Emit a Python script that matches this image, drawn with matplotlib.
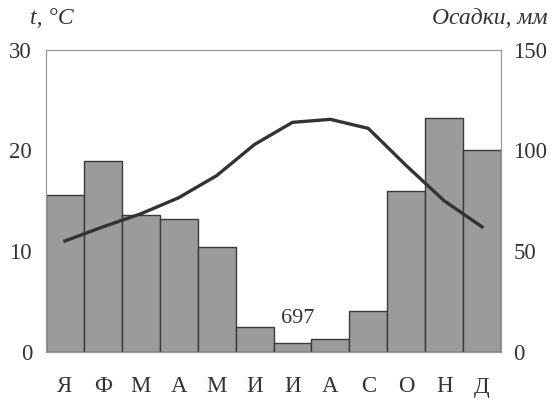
import numpy as np
import matplotlib.pyplot as plt

# Данные климатограммы
months = ['Я', 'Ф', 'М', 'А', 'М', 'И', 'И', 'А', 'С', 'О', 'Н', 'Д']
temp = [11.0, 12.4, 13.7, 15.3, 17.5, 20.6, 22.8, 23.1, 22.2, 18.5, 15.0, 12.4]
precip = [78, 95, 68, 66, 52, 12, 4, 6, 20, 80, 116, 100]
total_precip = '697'

plt.rcParams['font.family'] = ['Liberation Serif', 'DejaVu Serif']

fig = plt.figure(figsize=(5.52, 4.01), dpi=100)
ax = fig.add_axes([46 / 552, 1 - 351.5 / 401, 455 / 552, 301.5 / 401])
ax2 = ax.twinx()

x = np.arange(len(months))

# Осадки (правая ось)
ax2.bar(x, precip, width=1.0, color='#9b9b9b', edgecolor='#3a3a3a', linewidth=1.0)
ax2.set_ylim(0, 150)
ax2.set_yticks([0, 50, 100, 150])
ax2.text(6.15, 16.5, total_precip, ha='center', va='center', fontsize=16, color='#333333')

# Температура (левая ось)
ax.set_zorder(ax2.get_zorder() + 1)
ax.patch.set_visible(False)
ax.plot(x, temp, color='#333333', linewidth=2.4, solid_joinstyle='round')
ax.set_ylim(0, 30)
ax.set_yticks([0, 10, 20, 30])
ax.set_xlim(-0.5, 11.5)
ax.set_xticks(x)
ax.set_xticklabels(months)

for a in (ax, ax2):
    a.tick_params(length=0, labelsize=16.5, colors='#333333')
    for s in a.spines.values():
        s.set_color('#999999')
        s.set_linewidth(0.8)
ax.tick_params(axis='y', pad=10)
ax2.tick_params(axis='y', pad=9)
ax.tick_params(axis='x', pad=18)

fig.text(30 / 552, 1 - 18 / 401, 't, °C', fontsize=17, style='italic', color='#333333', va='center', ha='left')
fig.text(548 / 552, 1 - 18 / 401, 'Осадки, мм', fontsize=17, style='italic', color='#333333', va='center', ha='right')

plt.savefig('out.png', dpi=100)
